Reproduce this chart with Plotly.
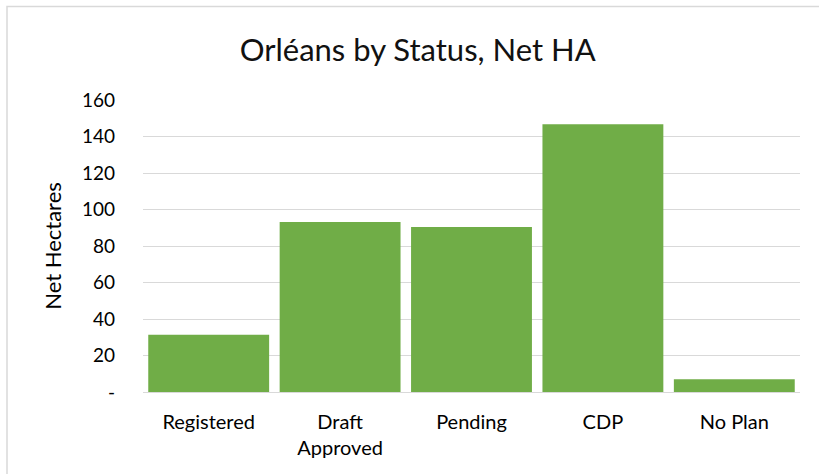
import plotly.graph_objects as go

categories = ["Registered", "Draft<br>Approved", "Pending", "CDP", "No Plan"]
net_hectares = [31.4, 93.2, 90.4, 146.7, 7.0]
y_tick_vals = [0, 20, 40, 60, 80, 100, 120, 140, 160]
y_tick_text = ["-", "20", "40", "60", "80", "100", "120", "140", "160"]

W, H = 819, 474
L, R, T, B = 143, 19, 100, 82

fig = go.Figure(go.Bar(
    x=categories, y=net_hectares,
    marker=dict(color="#70AD47", line=dict(width=0)),
))

fig.update_layout(
    width=W, height=H,
    margin=dict(l=L, r=R, t=T, b=B, autoexpand=False),
    paper_bgcolor="white", plot_bgcolor="white",
    font=dict(family="Lato, 'Open Sans', sans-serif", size=19, color="#000000"),
    bargap=0.08,
    showlegend=False,
    title=dict(text="Orléans by Status, Net HA", x=0.51, xanchor="center",
               y=1 - 50 / H, yanchor="middle",
               font=dict(size=31, color="#111111")),
    xaxis=dict(showgrid=False, showline=True, linecolor="#D9D9D9", linewidth=1,
               ticks="", tickfont=dict(size=20), ticklabelstandoff=12,
               automargin=False),
    yaxis=dict(range=[0, 160], tickvals=y_tick_vals, ticktext=y_tick_text,
               showgrid=True, gridcolor="#D9D9D9", gridwidth=1,
               zeroline=False, showline=False, ticks="",
               tickfont=dict(size=19),
               ticklabelstandoff=27, automargin=False,
               title=dict(text="Net Hectares", font=dict(size=22), standoff=14)),
    shapes=[dict(type="rect", xref="paper", yref="paper",
                 x0=(7 - L) / (W - L - R), x1=(W + 5 - L) / (W - L - R),
                 y0=-(B + 5) / (H - T - B), y1=1 + (T - 6.5) / (H - T - B),
                 line=dict(color="#D9D9D9", width=1.5), layer="below")],
)

fig.write_html("out.html", config={"displayModeBar": False},
               post_script="document.body.style.margin='0';document.body.style.overflow='hidden';")
